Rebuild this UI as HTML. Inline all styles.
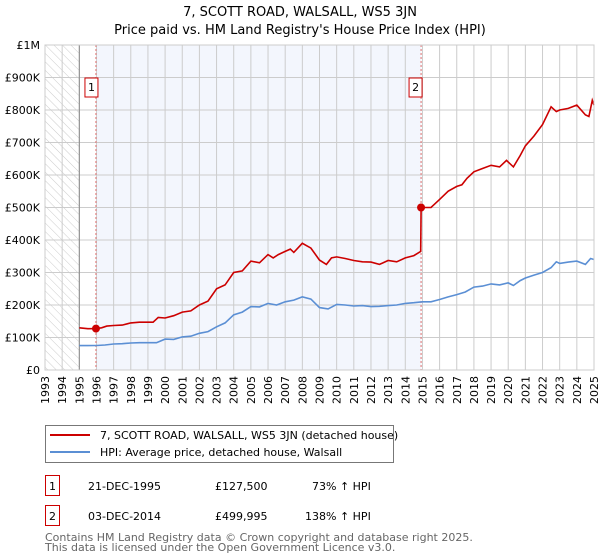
<!DOCTYPE html>
<html><head><meta charset="utf-8"><style>
body{margin:0;background:#fff;font-family:"Liberation Sans","DejaVu Sans",sans-serif;}
svg{display:block}
</style></head><body>
<svg id="c" width="600" height="560" xmlns="http://www.w3.org/2000/svg" font-family="DejaVu Sans, Liberation Sans, sans-serif">
<defs><pattern id="hatch" width="6" height="6" patternUnits="userSpaceOnUse" patternTransform="rotate(-45)"><line x1="0" y1="0" x2="0" y2="6" stroke="#ccc" stroke-width="1"/></pattern></defs>
<text x="300" y="16" text-anchor="middle" font-size="13">7, SCOTT ROAD, WALSALL, WS5 3JN</text>
<text x="300" y="34" text-anchor="middle" font-size="13">Price paid vs. HM Land Registry's House Price Index (HPI)</text>
<g id="plot"></g>
<g>
<rect x="45.5" y="425.5" width="348" height="37" fill="#fff" stroke="#777"/>
<line x1="50" y1="435" x2="90" y2="435" stroke="#cc0000" stroke-width="2"/>
<text x="100" y="439" font-size="11">7, SCOTT ROAD, WALSALL, WS5 3JN (detached house)</text>
<line x1="50" y1="452" x2="90" y2="452" stroke="#5b8fd4" stroke-width="2"/>
<text x="100" y="456" font-size="11">HPI: Average price, detached house, Walsall</text>
</g>
<g font-size="11">
<rect x="45.5" y="475.5" width="14" height="20" fill="#fff" stroke="#cc0000"/>
<text x="52.5" y="490" text-anchor="middle">1</text>
<text x="88" y="490">21-DEC-1995</text><text x="215" y="490">£127,500</text><text x="312" y="490">73% ↑ HPI</text>
<rect x="45.5" y="505.5" width="14" height="20" fill="#fff" stroke="#cc0000"/>
<text x="52.5" y="520" text-anchor="middle">2</text>
<text x="88" y="520">03-DEC-2014</text><text x="215" y="520">£499,995</text><text x="305" y="520">138% ↑ HPI</text>
</g>
<text x="45" y="541" font-size="11" fill="#666">Contains HM Land Registry data © Crown copyright and database right 2025.</text>
<text x="45" y="551" font-size="11" fill="#666">This data is licensed under the Open Government Licence v3.0.</text>
</svg>
<script>
const yearTicks=[1993,1994,1995,1996,1997,1998,1999,2000,2001,2002,2003,2004,2005,2006,2007,2008,2009,2010,2011,2012,2013,2014,2015,2016,2017,2018,2019,2020,2021,2022,2023,2024,2025];
const yTicks=[0,100000,200000,300000,400000,500000,600000,700000,800000,900000,1000000];
const yLabels=["£0","£100K","£200K","£300K","£400K","£500K","£600K","£700K","£800K","£900K","£1M"];
const hpiX=[1995.0,1995.5,1996.0,1996.5,1997.0,1997.5,1998.0,1998.5,1999.0,1999.5,2000.0,2000.5,2001.0,2001.5,2002.0,2002.5,2003.0,2003.5,2004.0,2004.5,2005.0,2005.5,2006.0,2006.5,2007.0,2007.5,2008.0,2008.5,2009.0,2009.5,2010.0,2010.5,2011.0,2011.5,2012.0,2012.5,2013.0,2013.5,2014.0,2014.5,2015.0,2015.5,2016.0,2016.5,2017.0,2017.5,2018.0,2018.5,2019.0,2019.5,2020.0,2020.3,2020.7,2021.0,2021.5,2022.0,2022.5,2022.8,2023.0,2023.5,2024.0,2024.5,2024.8,2025.0];
const hpiY=[75000,75000,75500,77000,80000,81000,83000,84000,84000,84000,95000,94000,102000,104000,113000,118000,133000,145000,170000,178000,195000,194000,205000,200000,210000,215000,225000,218000,192000,188000,202000,200000,197000,198000,195000,196000,198000,200000,205000,207000,210000,210000,217000,225000,232000,240000,255000,258000,265000,262000,268000,260000,275000,283000,292000,300000,315000,333000,328000,332000,335000,325000,343000,340000];
const saleX=[1995.97,2014.92];
const saleY=[127500,499995];
const propX=[1995.0,1995.5,1995.97,1996.3,1996.6,1997.0,1997.5,1998.0,1998.5,1999.0,1999.3,1999.6,2000.0,2000.5,2001.0,2001.5,2002.0,2002.5,2003.0,2003.5,2004.0,2004.5,2005.0,2005.5,2006.0,2006.3,2006.6,2007.0,2007.3,2007.5,2008.0,2008.5,2009.0,2009.4,2009.7,2010.0,2010.5,2011.0,2011.5,2012.0,2012.5,2013.0,2013.5,2014.0,2014.5,2014.9,2014.92,2015.5,2016.0,2016.5,2017.0,2017.3,2017.6,2018.0,2018.5,2019.0,2019.5,2019.9,2020.3,2020.7,2021.0,2021.5,2022.0,2022.5,2022.8,2023.0,2023.5,2024.0,2024.5,2024.7,2024.9,2025.0];
const propY=[130000,127000,127500,130000,135000,137000,138000,145000,147000,147000,147000,162000,160000,167000,178000,182000,200000,212000,250000,262000,300000,305000,335000,330000,355000,345000,355000,365000,372000,362000,390000,375000,338000,325000,345000,348000,343000,337000,333000,332000,325000,337000,333000,345000,352000,365000,499995,500000,525000,550000,565000,570000,590000,610000,620000,630000,625000,645000,625000,660000,690000,720000,755000,810000,795000,800000,805000,815000,785000,780000,830000,815000];
const L=45,R=594,T=45,B=370;
const sx=v=>L+(v-1993)/(2025-1993)*(R-L);
const sy=v=>B-v/1000000*(B-T);
const NS="http://www.w3.org/2000/svg";
const g=document.getElementById('plot');
function mk(t,a,p){const e=document.createElementNS(NS,t);for(const k in a)e.setAttribute(k,a[k]);(p||g).appendChild(e);return e;}
let e;
e=mk('rect',{x:sx(1993),y:T,width:sx(1995)-sx(1993),height:B-T,fill:'url(#hatch)'});


e=mk('rect',{x:sx(saleX[0]),y:T,width:sx(saleX[1])-sx(saleX[0]),height:B-T,fill:'#f3f6fd'});


yearTicks.forEach((yr,i)=>{
 e=mk('line',{x1:sx(yr),x2:sx(yr),y1:T,y2:B,stroke:'#ccc','stroke-width':1});
 
 
 const x=sx(yr)+4,y=B+6;
 e=mk('text',{x:x,y:y,'font-size':11,'text-anchor':'end',transform:`rotate(-90 ${x} ${y})`});
 e.textContent=yr;
 
 
});
yTicks.forEach((v,i)=>{
 e=mk('line',{x1:L,x2:R,y1:sy(v),y2:sy(v),stroke:'#ccc','stroke-width':1});
 
 
 e=mk('text',{x:40,y:sy(v)+4,'font-size':11,'text-anchor':'end'});
 e.textContent=yLabels[i];
 
 
});
e=mk('line',{x1:sx(1995),x2:sx(1995),y1:T,y2:B,stroke:'#888'});


saleX.forEach((sxv,i)=>{
 e=mk('line',{x1:sx(sxv),x2:sx(sxv),y1:T,y2:B,stroke:'#e07070','stroke-dasharray':'2,2'});
 
 
 const bx=sx(sxv)-(i==0?11:12);
 e=mk('rect',{x:bx,y:78,width:13,height:19,fill:'#fff',stroke:'#cc0000'});
 
 
 e=mk('text',{x:bx+6.5,y:91,'font-size':11,'text-anchor':'middle'});
 e.textContent=String(i+1);
 
 
});
const pts=(xs,ys)=>xs.map((x,i)=>sx(x).toFixed(1)+','+sy(ys[i]).toFixed(1)).join(' ');
e=mk('polyline',{points:pts(hpiX,hpiY),fill:'none',stroke:'#5b8fd4','stroke-width':1.6});


e=mk('polyline',{points:pts(propX,propY),fill:'none',stroke:'#cc0000','stroke-width':1.6});


saleX.forEach((x,i)=>{
 e=mk('circle',{cx:sx(x),cy:sy(saleY[i]),r:4,fill:'#cc0000'});
 
 
});
e=mk('rect',{x:L,y:T,width:R-L,height:B-T,fill:'none',stroke:'#ccc'});


</script>
</body></html>
